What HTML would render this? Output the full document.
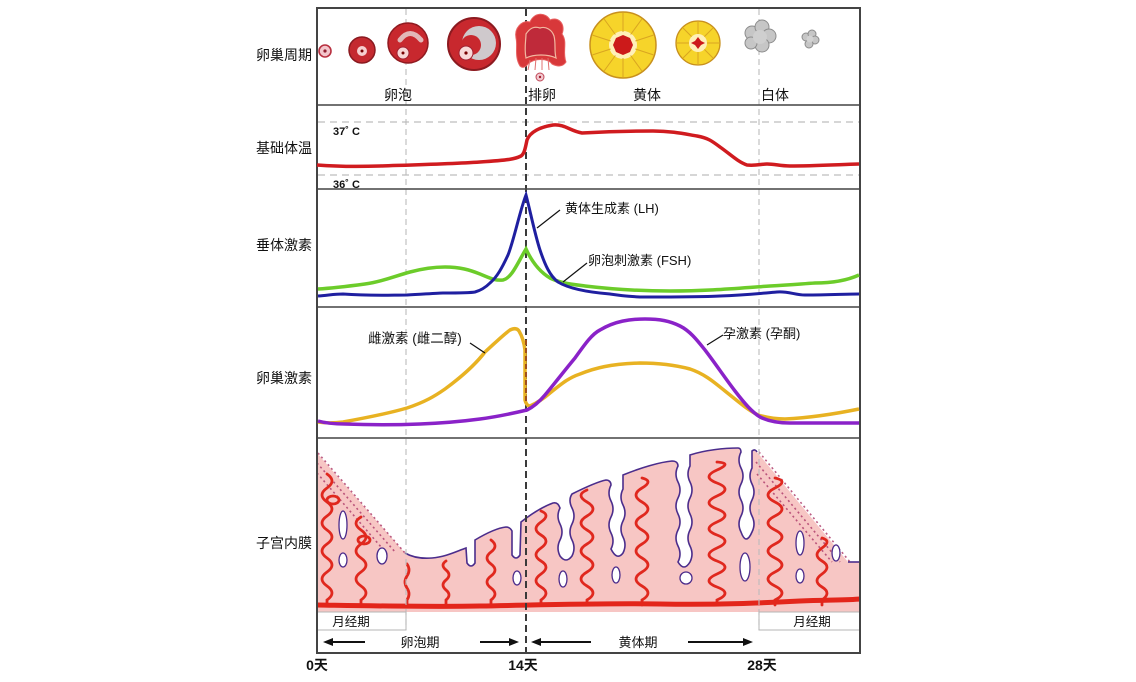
<!DOCTYPE html>
<html><head><meta charset="utf-8"><style>
html,body{margin:0;padding:0;background:#fff;}
svg{display:block;}
text{font-family:"Liberation Sans","Noto Sans CJK SC",sans-serif;fill:#111;}
</style></head><body>
<svg width="1136" height="682" viewBox="0 0 1136 682" xmlns="http://www.w3.org/2000/svg">
<rect width="1136" height="682" fill="#fff"/>

<!-- endometrium pink fill -->
<path d="M317,453 L405,553 C412,557 420,559 432,558 C445,557 455,552 466,548 L467,563 Q471,569 475,563 L475,540 C485,534 497,528 506,527 C509,527 511,529 512,531 L512,555 Q516,561 520,555 L521,522 C530,515 542,507 553,503 C557,502 559,505 560,508 Q556,516 560,524 T560,540 T560,556 Q566,564 572,556 Q576,548 572,540 T572,524 T572,508 T572,494 C582,489 596,482 606,480 C609,480 611,482 611,485 Q607,493 611,501 T611,517 T611,533 T611,549 Q617,561 623,553 Q627,545 623,537 T623,521 T623,505 T623,489 L623,475 C640,468 660,462 672,461 C676,461 678,463 678,466 Q674,474 678,482 T678,498 T678,514 T678,530 T678,546 T678,562 Q684,572 690,562 Q694,554 690,546 T690,530 T690,514 T690,498 T690,482 T690,466 L690,455 C705,450 725,448 738,448 C740,448 741,450 741,452 Q737,460 741,468 T741,484 T741,500 T741,516 T741,532 Q746,546 752,532 Q756,524 752,516 T752,500 T752,484 T752,468 L752,451 C754,449 756,450 757,452 L848,562 L860,562 L860,612 L317,612 Z" fill="#f7c6c4"/>

<!-- shedding fragments -->
<g stroke="#b0406e" stroke-width="1.6" stroke-dasharray="2 3" fill="none" opacity="0.85">
<path d="M318,453 L405,553"/><path d="M317,463 L396,553"/><path d="M317,473 L388,555"/>
<path d="M759,452 L850,562"/><path d="M756,462 L840,562"/><path d="M757,474 L832,562"/>
</g>

<!-- surface outline -->
<path d="M405,553 C412,557 420,559 432,558 C445,557 455,552 466,548 L467,563 Q471,569 475,563 L475,540 C485,534 497,528 506,527 C509,527 511,529 512,531 L512,555 Q516,561 520,555 L521,522 C530,515 542,507 553,503 C557,502 559,505 560,508 Q556,516 560,524 T560,540 T560,556 Q566,564 572,556 Q576,548 572,540 T572,524 T572,508 T572,494 C582,489 596,482 606,480 C609,480 611,482 611,485 Q607,493 611,501 T611,517 T611,533 T611,549 Q617,561 623,553 Q627,545 623,537 T623,521 T623,505 T623,489 L623,475 C640,468 660,462 672,461 C676,461 678,463 678,466 Q674,474 678,482 T678,498 T678,514 T678,530 T678,546 T678,562 Q684,572 690,562 Q694,554 690,546 T690,530 T690,514 T690,498 T690,482 T690,466 L690,455 C705,450 725,448 738,448 C740,448 741,450 741,452 Q737,460 741,468 T741,484 T741,500 T741,516 T741,532 Q746,546 752,532 Q756,524 752,516 T752,500 T752,484 T752,468 L752,451 C754,449 756,450 757,452" fill="none" stroke="#4b2d8c" stroke-width="1.6"/>
<path d="M848,562 L860,562" stroke="#4b2d8c" stroke-width="1.6"/>

<!-- arteries -->
<g stroke="#e0281e" stroke-width="2.8" fill="none" stroke-linecap="round">
<path d="M327,605 L327,600 Q337,593 327,586 T327,572 T327,558 T327,544 T327,530 T327,516 T327,502 T327,488 T327,474"/>
<ellipse cx="333" cy="500" rx="6" ry="4"/>
<path d="M361,605 L361,600 Q371,593 361,586 T361,572 T361,558 T361,544 T361,530 T361,517"/>
<ellipse cx="364" cy="540" rx="6" ry="4"/>
<path d="M407,605 L407,600 Q411,594 407,588 T407,576 T407,564"/>
<path d="M446,605 L446,600 Q452,595 446,590 T446,580 T446,570 T446,561"/>
<path d="M491,605 L491,600 Q499,594 491,588 T491,576 T491,564 T491,552 T491,540"/>
<path d="M541,605 L541,600 Q551,593 541,587 T541,574 T541,561 T541,548 T541,535 T541,522 T541,511"/>
<path d="M587,605 L587,600 Q599,593 587,586 T587,572 T587,558 T587,544 T587,530 T587,516 T587,502 T587,490"/>
<path d="M642,605 L642,600 Q654,593 642,586 T642,572 T642,558 T642,544 T642,530 T642,516 T642,502 T642,488 T642,478"/>
<path d="M717,605 L717,600 Q733,593 717,587 T717,574 T717,561 T717,548 T717,535 T717,522 T717,509 T717,496 T717,483 T717,470 T717,462"/>
<path d="M775,605 L775,600 Q789,593 775,586 T775,572 T775,558 T775,544 T775,530 T775,516 T775,502 T775,488 T775,478"/>
<path d="M822,605 L822,600 Q832,593 822,587 T822,574 T822,561 T822,548 T822,538"/>
</g>

<!-- isolated glands -->
<g fill="#fff" stroke="#4a2a8a" stroke-width="1.3">
<ellipse cx="343" cy="525" rx="4" ry="14"/>
<ellipse cx="343" cy="560" rx="4" ry="7"/>
<ellipse cx="382" cy="556" rx="5" ry="8"/>
<ellipse cx="517" cy="578" rx="4" ry="7"/>
<ellipse cx="563" cy="579" rx="4" ry="8"/>
<ellipse cx="616" cy="575" rx="4" ry="8"/>
<ellipse cx="686" cy="578" rx="6" ry="6"/>
<ellipse cx="745" cy="567" rx="5" ry="14"/>
<ellipse cx="800" cy="543" rx="4" ry="12"/>
<ellipse cx="800" cy="576" rx="4" ry="7"/>
<ellipse cx="836" cy="553" rx="4" ry="8"/>
</g>

<!-- basal line -->
<path d="M317,605 C380,606 430,607 480,606 C540,605 600,603 660,604 C720,605 760,603 800,601 C830,600 850,600 860,599" fill="none" stroke="#e3261b" stroke-width="5"/>

<!-- temperature dashed refs -->
<g stroke="#bdbdbd" stroke-width="1.3" stroke-dasharray="7 5">
<line x1="318" y1="122" x2="859" y2="122"/>
<line x1="318" y1="175" x2="859" y2="175"/>
</g>

<!-- vertical guide lines -->
<g stroke="#bcbcbc" stroke-width="1.1" stroke-dasharray="6 4">
<line x1="406" y1="9" x2="406" y2="630"/>
<line x1="759" y1="9" x2="759" y2="630"/>
</g>
<line x1="526" y1="9" x2="526" y2="653" stroke="#3a3a3a" stroke-width="2" stroke-dasharray="7 4"/>

<!-- month period boxes -->
<g fill="none" stroke="#b5b5b5" stroke-width="1">
<rect x="317" y="612" width="89" height="18"/>
<rect x="759" y="612" width="101" height="18"/>
</g>

<!-- frame -->
<rect x="317" y="8" width="543" height="645" fill="none" stroke="#444" stroke-width="2"/>
<g stroke="#444" stroke-width="1.6">
<line x1="317" y1="105" x2="860" y2="105"/>
<line x1="317" y1="189" x2="860" y2="189"/>
<line x1="317" y1="307" x2="860" y2="307"/>
<line x1="317" y1="438" x2="860" y2="438"/>
</g>

<!-- ovary icons -->
<circle cx="325" cy="51" r="6" fill="#f3c6cc" stroke="#b83040" stroke-width="1.6"/>
<circle cx="325" cy="51" r="1.6" fill="#902030"/>

<circle cx="362" cy="50" r="13" fill="#c42a30" stroke="#8a1a20" stroke-width="1.5"/>
<circle cx="362" cy="51" r="5" fill="#f6d0d0"/>
<circle cx="362" cy="51" r="1.5" fill="#700"/>

<circle cx="408" cy="43" r="20" fill="#c8282e" stroke="#901a20" stroke-width="1.5"/>
<path d="M400,40 Q410,27 421,40" fill="none" stroke="#e2b8b8" stroke-width="5" stroke-linecap="round"/>
<circle cx="403" cy="53" r="6" fill="#f8d5d5" stroke="#a02030" stroke-width="1"/>
<circle cx="403" cy="53" r="1.5" fill="#700"/>

<circle cx="474" cy="44" r="26" fill="#c8282e" stroke="#8c1a20" stroke-width="2"/>
<circle cx="479" cy="43" r="17" fill="#cfc9cc"/>
<circle cx="471" cy="45" r="10" fill="#c8282e"/>
<circle cx="466" cy="53" r="7" fill="#f8d8d8" stroke="#a02030" stroke-width="1"/>
<circle cx="466" cy="53" r="1.6" fill="#700"/>

<!-- ruptured follicle -->
<path d="M520,66 C514,56 518,46 516,38 C514,28 522,20 530,22 C534,12 546,12 550,20 C558,16 566,24 562,34 C568,42 562,52 566,62 C562,68 556,66 552,64 C548,58 534,58 528,64 C525,68 522,68 520,66 Z" fill="#d8383a" stroke="#e86060" stroke-width="1"/>
<path d="M526,58 C524,48 526,40 526,34 C530,28 534,26 540,28 C546,26 552,30 554,36 C556,44 554,50 556,58 C548,54 534,54 526,58 Z" fill="#bf2a3a" stroke="#f2b8a0" stroke-width="1.2"/>
<g stroke="#e07070" stroke-width="1"><line x1="530" y1="60" x2="528" y2="70"/><line x1="536" y1="58" x2="535" y2="70"/><line x1="542" y1="58" x2="542" y2="70"/><line x1="548" y1="58" x2="549" y2="70"/></g>
<circle cx="540" cy="77" r="4" fill="#f2c8cf" stroke="#c04858" stroke-width="1"/>
<circle cx="540" cy="77" r="1.2" fill="#a02030"/>

<!-- corpus luteum big -->
<circle cx="623" cy="45" r="33" fill="#f6d42a" stroke="#c8901e" stroke-width="1.5"/>
<circle cx="623" cy="45" r="14" fill="#fff0b8"/>
<g transform="translate(623,45)" stroke="#d9a521" stroke-width="1">
<line x1="0" y1="-13" x2="0" y2="-32"/><line x1="0" y1="-13" x2="0" y2="-32" transform="rotate(36)"/><line x1="0" y1="-13" x2="0" y2="-32" transform="rotate(72)"/><line x1="0" y1="-13" x2="0" y2="-32" transform="rotate(108)"/><line x1="0" y1="-13" x2="0" y2="-32" transform="rotate(144)"/><line x1="0" y1="-13" x2="0" y2="-32" transform="rotate(180)"/><line x1="0" y1="-13" x2="0" y2="-32" transform="rotate(216)"/><line x1="0" y1="-13" x2="0" y2="-32" transform="rotate(252)"/><line x1="0" y1="-13" x2="0" y2="-32" transform="rotate(288)"/><line x1="0" y1="-13" x2="0" y2="-32" transform="rotate(324)"/>
</g>
<polygon points="623,35 630,38 633,45 630,52 623,55 616,52 613,45 616,38" fill="#cc1a1a"/>

<!-- corpus luteum small -->
<circle cx="698" cy="43" r="22" fill="#f6d42a" stroke="#c8901e" stroke-width="1.3"/>
<circle cx="698" cy="43" r="9" fill="#fff0b8"/>
<g transform="translate(698,43)" stroke="#d9a521" stroke-width="1">
<line x1="0" y1="-9" x2="0" y2="-21"/><line x1="0" y1="-9" x2="0" y2="-21" transform="rotate(45)"/><line x1="0" y1="-9" x2="0" y2="-21" transform="rotate(90)"/><line x1="0" y1="-9" x2="0" y2="-21" transform="rotate(135)"/><line x1="0" y1="-9" x2="0" y2="-21" transform="rotate(180)"/><line x1="0" y1="-9" x2="0" y2="-21" transform="rotate(225)"/><line x1="0" y1="-9" x2="0" y2="-21" transform="rotate(270)"/><line x1="0" y1="-9" x2="0" y2="-21" transform="rotate(315)"/>
</g>
<polygon points="698,37 701,41 705,43 701,45 698,49 695,45 691,43 695,41" fill="#cc1a1a"/>

<!-- corpus albicans -->
<g fill="#c6c6c6" stroke="#8c8c8c" stroke-width="1">
<circle cx="752" cy="33" r="7"/><circle cx="762" cy="27" r="7"/><circle cx="769" cy="36" r="7"/><circle cx="762" cy="45" r="7"/><circle cx="751" cy="43" r="6"/>
<circle cx="806" cy="37" r="4"/><circle cx="812" cy="34" r="4"/><circle cx="815" cy="40" r="4"/><circle cx="809" cy="44" r="4"/>
</g>
<circle cx="760" cy="37" r="7" fill="#cfcfcf"/>
<circle cx="810" cy="39" r="3.5" fill="#d2d2d2"/>

<!-- temperature curve -->
<path d="M317,165 C330,166 350,167 380,166 S450,164 480,162 S515,159 521,156 C524,154 525,150 527,140 C530,132 540,127 553,125 C565,124 570,131 582,133 C600,132 630,131 653,131 C672,131 685,134 697,136 C708,138 712,141 720,147 C730,154 738,162 747,165 C755,166 762,164 767,164 C775,164 780,166 790,166 C810,166 830,165 859,164" fill="none" stroke="#d01b1f" stroke-width="3.5"/>

<!-- pituitary -->
<path d="M318,289 C335,288 350,286 365,284 C385,281 395,276 410,272 C425,268 435,267 445,267 C460,267 470,270 480,274 C490,278 495,281 503,280 C512,278 518,262 526,249 C532,262 540,272 550,278 C560,283 570,284 585,286 C610,289 640,291 670,291 C710,291 740,288 770,286 C790,285 800,284 815,283 C835,283 848,280 859,275" fill="none" stroke="#6ccc2a" stroke-width="3.5"/>
<path d="M318,296 C330,295 335,294 343,294 C370,296 390,295 407,295 C425,294 440,293 443,293 C460,293 470,293 475,292 C482,290 486,287 490,283 C497,277 502,268 508,255 C514,240 520,210 526,195 C530,210 535,235 540,250 C545,265 550,276 558,282 C568,288 585,292 610,294 C625,296 632,297 645,297 C670,297 700,297 720,296 C745,295 765,293 777,292 C788,291 795,295 805,295 C830,295 845,294 859,294" fill="none" stroke="#1f1fa0" stroke-width="3"/>

<!-- ovarian hormones -->
<path d="M318,422 C325,423 335,423 343,422 C365,418 390,413 407,408 C425,402 435,396 445,389 C460,378 475,365 485,352 C495,343 503,335 510,330 C514,328 517,328 519,331 C522,336 524,342 525,350 L525,400 C526,404 528,406 530,406 C537,403 543,399 550,393 C560,385 568,378 580,374 C595,368 610,364 640,363 C660,363 675,365 690,369 C705,374 715,383 725,391 C740,403 748,410 758,415 C768,418 775,419 785,419 C805,418 830,415 859,409" fill="none" stroke="#e8b222" stroke-width="3.5"/>
<path d="M318,421 C325,423 335,424 345,424 C370,425 395,425 420,424 C445,423 465,421 480,419 C495,417 510,414 527,410 C535,406 540,401 545,395 C555,383 565,370 575,358 C585,344 592,334 600,330 C615,321 630,319 645,319 C660,319 670,321 680,326 C690,331 697,340 705,350 C715,363 725,378 735,391 C745,404 752,412 760,417 C770,422 780,423 790,423 C810,423 835,423 859,423" fill="none" stroke="#8a22c8" stroke-width="3.5"/>
<line x1="526" y1="340" x2="526" y2="402" stroke="#a0501e" stroke-width="2" stroke-dasharray="5 3"/>

<!-- leaders -->
<g stroke="#111" stroke-width="1.2">
<line x1="537" y1="228" x2="560" y2="210"/>
<line x1="563" y1="282" x2="587" y2="263"/>
<line x1="470" y1="343" x2="485" y2="353"/>
<line x1="707" y1="345" x2="723" y2="335"/>
</g>

<!-- row labels -->
<g font-size="14" text-anchor="end">
<text x="312" y="60">卵巢周期</text>
<text x="312" y="153">基础体温</text>
<text x="312" y="250">垂体激素</text>
<text x="312" y="383">卵巢激素</text>
<text x="312" y="548">子宫内膜</text>
</g>

<!-- phase labels -->
<g font-size="14" text-anchor="middle">
<text x="398" y="100">卵泡</text>
<text x="542" y="100">排卵</text>
<text x="647" y="100">黄体</text>
<text x="775" y="100">白体</text>
</g>

<text x="333" y="135" font-size="11" font-weight="bold">37˚ C</text>
<text x="333" y="188" font-size="11" font-weight="bold">36˚ C</text>

<g font-size="13">
<text x="565" y="213">黄体生成素 (LH)</text>
<text x="588" y="265">卵泡刺激素 (FSH)</text>
<text x="368" y="343" font-size="13.5">雌激素 (雌二醇)</text>
<text x="723" y="338">孕激素 (孕酮)</text>
</g>

<g font-size="12.5" text-anchor="middle">
<text x="351" y="626">月经期</text>
<text x="812" y="626">月经期</text>
<text x="420" y="647" font-size="13">卵泡期</text>
<text x="638" y="647" font-size="13">黄体期</text>
</g>

<!-- arrows -->
<g stroke="#111" stroke-width="2">
<line x1="331" y1="642" x2="365" y2="642"/>
<line x1="480" y1="642" x2="511" y2="642"/>
<line x1="539" y1="642" x2="591" y2="642"/>
<line x1="688" y1="642" x2="745" y2="642"/>
</g>
<g fill="#111">
<polygon points="323,642 333,638 333,646"/>
<polygon points="519,642 509,638 509,646"/>
<polygon points="531,642 541,638 541,646"/>
<polygon points="753,642 743,638 743,646"/>
</g>

<!-- day labels -->
<g font-size="14" font-weight="bold" text-anchor="middle">
<text x="317" y="670">0天</text>
<text x="523" y="670">14天</text>
<text x="762" y="670">28天</text>
</g>
</svg>
</body></html>
